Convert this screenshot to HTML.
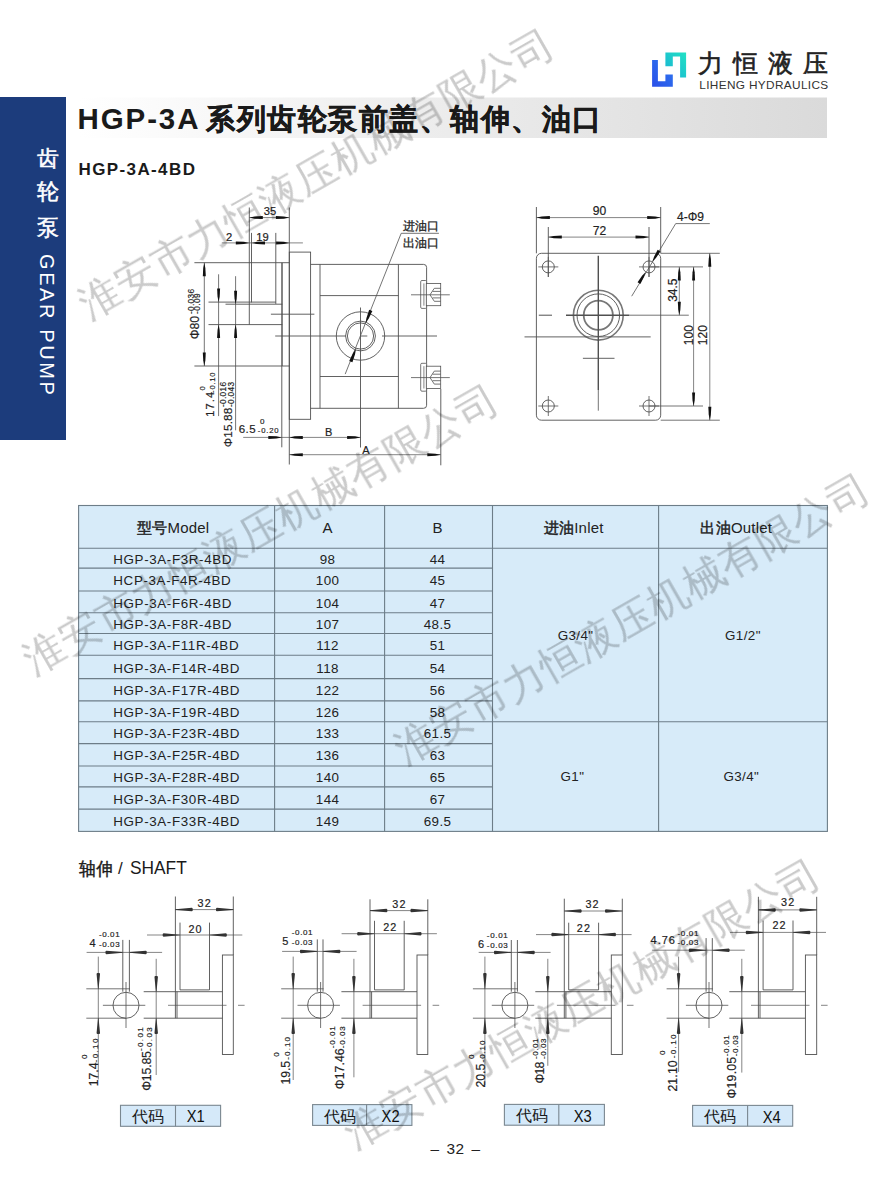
<!DOCTYPE html>
<html><head><meta charset="utf-8">
<style>
html,body{margin:0;padding:0;background:#fff;}
body{width:882px;height:1200px;overflow:hidden;position:relative;font-family:"Liberation Sans",sans-serif;}
svg{position:absolute;left:0;top:0;}
</style></head>
<body>
<svg width="882" height="1200" viewBox="0 0 882 1200" font-family="Liberation Sans, sans-serif">
<defs>
<linearGradient id="tg" x1="0" x2="1" y1="0" y2="0">
<stop offset="0" stop-color="#ffffff"/><stop offset="0.35" stop-color="#f1f1f1"/><stop offset="1" stop-color="#dadada"/>
</linearGradient>
<linearGradient id="lb" x1="0" x2="1" y1="1" y2="0">
<stop offset="0" stop-color="#2a4fe8"/><stop offset="1" stop-color="#2e7af0"/>
</linearGradient>
<linearGradient id="lt" x1="0" x2="1" y1="1" y2="0">
<stop offset="0" stop-color="#18b0d4"/><stop offset="1" stop-color="#22e2c4"/>
</linearGradient>
</defs>

<!-- sidebar -->
<rect x="0" y="97" width="66" height="343" fill="#1c3c7c"/>
<g fill="#fff" stroke="#fff" stroke-width="0.5" font-size="22" text-anchor="middle">
<text x="48.2" y="165.5">齿</text>
<text x="48.2" y="199">轮</text>
<text x="48.2" y="234.5">泵</text>
</g>
<text transform="translate(40,254) rotate(90)" fill="#fff" font-size="20" letter-spacing="2.6">GEAR PUMP</text>

<!-- title bar -->
<rect x="79" y="97.5" width="748" height="40.5" fill="url(#tg)"/>
<text x="77.5" y="129" font-size="29.5" font-weight="bold" fill="#1a1a1a" letter-spacing="1.9">HGP-3A</text>
<text x="206" y="129" font-size="29" font-weight="bold" fill="#1a1a1a" stroke="#1a1a1a" stroke-width="0.45" letter-spacing="1.5">系列齿轮泵前盖、轴伸、油口</text>

<!-- logo -->
<path d="M652.1,60 H657.9 V81.3 H665.4 V74.5 H672.8 V86.7 H652.1 Z" fill="url(#lb)"/>
<path d="M665.4,52.4 H686.1 V77.6 H680.1 V56.6 H672.8 V66.3 H665.4 Z" fill="url(#lt)"/>
<text x="697.5" y="72" font-size="25" fill="#222" stroke="#222" stroke-width="0.6" letter-spacing="10.2">力恒液压</text>
<text x="699.3" y="89.4" font-size="11.8" fill="#333" textLength="128.9" lengthAdjust="spacing">LIHENG HYDRAULICS</text>

<!-- subtitle -->
<text x="78.5" y="175.4" font-size="17" font-weight="bold" fill="#1a1a1a" letter-spacing="1.39">HGP-3A-4BD</text>

<!-- table -->
<rect x="78.6" y="505.5" width="748.8" height="325.9" fill="#d7ebf9"/>
<g stroke="#6d7d88" stroke-width="1.1" fill="none">
<rect x="78.6" y="505.5" width="748.8" height="325.9"/>
<line x1="274.6" y1="505.5" x2="274.6" y2="831.4"/>
<line x1="384.6" y1="505.5" x2="384.6" y2="831.4"/>
<line x1="492.5" y1="505.5" x2="492.5" y2="831.4"/>
<line x1="658.6" y1="505.5" x2="658.6" y2="831.4"/>
<line x1="78.6" y1="548.3" x2="827.4" y2="548.3"/>
<line x1="78.6" y1="568.1" x2="492.5" y2="568.1"/>
<line x1="78.6" y1="591.0" x2="492.5" y2="591.0"/>
<line x1="78.6" y1="612.75" x2="492.5" y2="612.75"/>
<line x1="78.6" y1="633.5" x2="492.5" y2="633.5"/>
<line x1="78.6" y1="655.25" x2="492.5" y2="655.25"/>
<line x1="78.6" y1="678.6" x2="492.5" y2="678.6"/>
<line x1="78.6" y1="700.9" x2="492.5" y2="700.9"/>
<line x1="78.6" y1="721.7" x2="827.4" y2="721.7"/>
<line x1="78.6" y1="743.65" x2="492.5" y2="743.65"/>
<line x1="78.6" y1="766.0" x2="492.5" y2="766.0"/>
<line x1="78.6" y1="786.9" x2="492.5" y2="786.9"/>
<line x1="78.6" y1="809.1" x2="492.5" y2="809.1"/>
</g>
<g fill="#222" font-size="15" text-anchor="middle" letter-spacing="0.2">
<text x="173.2" y="532.5"><tspan stroke="#222" stroke-width="0.45">型号</tspan>Model</text>
<text x="327.6" y="532.5">A</text>
<text x="437.7" y="532.5">B</text>
<text x="573.7" y="532.5"><tspan stroke="#222" stroke-width="0.45">进油</tspan>Inlet</text>
<text x="736.3" y="532.5"><tspan stroke="#222" stroke-width="0.45">出油</tspan>Outlet</text>
</g>
<g fill="#222" font-size="13.4">
<text x="113.3" y="563.8" letter-spacing="0.62">HGP-3A-F3R-4BD</text>
<text x="327.6" y="563.8" text-anchor="middle" letter-spacing="0.45">98</text>
<text x="437.6" y="563.8" text-anchor="middle" letter-spacing="0.45">44</text>
<text x="113.3" y="585.1" letter-spacing="0.62">HCP-3A-F4R-4BD</text>
<text x="327.6" y="585.1" text-anchor="middle" letter-spacing="0.45">100</text>
<text x="437.6" y="585.1" text-anchor="middle" letter-spacing="0.45">45</text>
<text x="113.3" y="607.5" letter-spacing="0.62">HGP-3A-F6R-4BD</text>
<text x="327.6" y="607.5" text-anchor="middle" letter-spacing="0.45">104</text>
<text x="437.6" y="607.5" text-anchor="middle" letter-spacing="0.45">47</text>
<text x="113.3" y="628.7" letter-spacing="0.62">HGP-3A-F8R-4BD</text>
<text x="327.6" y="628.7" text-anchor="middle" letter-spacing="0.45">107</text>
<text x="437.6" y="628.7" text-anchor="middle" letter-spacing="0.45">48.5</text>
<text x="113.3" y="650.0" letter-spacing="0.62">HGP-3A-F11R-4BD</text>
<text x="327.6" y="650.0" text-anchor="middle" letter-spacing="0.45">112</text>
<text x="437.6" y="650.0" text-anchor="middle" letter-spacing="0.45">51</text>
<text x="113.3" y="672.5" letter-spacing="0.62">HGP-3A-F14R-4BD</text>
<text x="327.6" y="672.5" text-anchor="middle" letter-spacing="0.45">118</text>
<text x="437.6" y="672.5" text-anchor="middle" letter-spacing="0.45">54</text>
<text x="113.3" y="695.4" letter-spacing="0.62">HGP-3A-F17R-4BD</text>
<text x="327.6" y="695.4" text-anchor="middle" letter-spacing="0.45">122</text>
<text x="437.6" y="695.4" text-anchor="middle" letter-spacing="0.45">56</text>
<text x="113.3" y="716.9" letter-spacing="0.62">HGP-3A-F19R-4BD</text>
<text x="327.6" y="716.9" text-anchor="middle" letter-spacing="0.45">126</text>
<text x="437.6" y="716.9" text-anchor="middle" letter-spacing="0.45">58</text>
<text x="113.3" y="738.3" letter-spacing="0.62">HGP-3A-F23R-4BD</text>
<text x="327.6" y="738.3" text-anchor="middle" letter-spacing="0.45">133</text>
<text x="437.6" y="738.3" text-anchor="middle" letter-spacing="0.45">61.5</text>
<text x="113.3" y="760.4" letter-spacing="0.62">HGP-3A-F25R-4BD</text>
<text x="327.6" y="760.4" text-anchor="middle" letter-spacing="0.45">136</text>
<text x="437.6" y="760.4" text-anchor="middle" letter-spacing="0.45">63</text>
<text x="113.3" y="782.1" letter-spacing="0.62">HGP-3A-F28R-4BD</text>
<text x="327.6" y="782.1" text-anchor="middle" letter-spacing="0.45">140</text>
<text x="437.6" y="782.1" text-anchor="middle" letter-spacing="0.45">65</text>
<text x="113.3" y="803.6" letter-spacing="0.62">HGP-3A-F30R-4BD</text>
<text x="327.6" y="803.6" text-anchor="middle" letter-spacing="0.45">144</text>
<text x="437.6" y="803.6" text-anchor="middle" letter-spacing="0.45">67</text>
<text x="113.3" y="825.9" letter-spacing="0.62">HGP-3A-F33R-4BD</text>
<text x="327.6" y="825.9" text-anchor="middle" letter-spacing="0.45">149</text>
<text x="437.6" y="825.9" text-anchor="middle" letter-spacing="0.45">69.5</text>
<text x="575.6" y="639.6" text-anchor="middle" letter-spacing="0.4">G3/4"</text>
<text x="742.9" y="639.6" text-anchor="middle" letter-spacing="0.4">G1/2"</text>
<text x="572.4" y="781.1" text-anchor="middle" letter-spacing="0.4">G1"</text>
<text x="741.3" y="781.1" text-anchor="middle" letter-spacing="0.4">G3/4"</text>
</g>
<!--DRAW-->
<line x1="249.3" y1="207.5" x2="249.3" y2="324.6" stroke="#505050" stroke-width="0.9"/>
<line x1="289.3" y1="207.5" x2="289.3" y2="464.5" stroke="#505050" stroke-width="0.9"/>
<line x1="249.3" y1="217.6" x2="289.3" y2="217.6" stroke="#505050" stroke-width="0.7"/>
<polygon points="249.3,217.6 254.7,216.55 262.8,216.1 262.8,219.1 254.7,218.65" fill="#111"/>
<polygon points="289.3,217.6 283.9,218.65 275.8,219.1 275.8,216.1 283.9,216.55" fill="#111"/>
<text x="270" y="215" font-size="11.2" text-anchor="middle" fill="#222" stroke="#222" stroke-width="0.18">35</text>
<line x1="221.8" y1="242.9" x2="302.9" y2="242.9" stroke="#505050" stroke-width="0.7"/>
<polygon points="249.3,242.9 243.9,243.95 235.8,244.4 235.8,241.4 243.9,241.85" fill="#111"/>
<polygon points="251.5,242.9 256.9,241.85 265,241.4 265,244.4 256.9,243.95" fill="#111"/>
<polygon points="289.3,242.9 283.9,243.95 275.8,244.4 275.8,241.4 283.9,241.85" fill="#111"/>
<line x1="251.5" y1="232.9" x2="251.5" y2="302.4" stroke="#505050" stroke-width="0.9"/>
<line x1="275.8" y1="232.9" x2="275.8" y2="303.9" stroke="#505050" stroke-width="0.9"/>
<text x="229.2" y="240.6" font-size="11.2" text-anchor="middle" fill="#222" stroke="#222" stroke-width="0.18">2</text>
<text x="262.6" y="240.6" font-size="11.2" text-anchor="middle" fill="#222" stroke="#222" stroke-width="0.18">19</text>
<line x1="194.4" y1="262.7" x2="289.3" y2="262.7" stroke="#505050" stroke-width="0.9"/>
<line x1="194.4" y1="366" x2="289.3" y2="366" stroke="#505050" stroke-width="0.9"/>
<line x1="204.3" y1="262.7" x2="204.3" y2="366" stroke="#505050" stroke-width="0.8"/>
<polygon points="204.3,262.7 205.35,268.1 205.8,276.2 202.8,276.2 203.25,268.1" fill="#111"/>
<polygon points="204.3,366 203.25,360.6 202.8,352.5 205.8,352.5 205.35,360.6" fill="#111"/>
<line x1="208.5" y1="302.1" x2="275.8" y2="302.1" stroke="#505050" stroke-width="0.9"/>
<line x1="225.5" y1="304.2" x2="282.3" y2="304.2" stroke="#505050" stroke-width="0.9"/>
<line x1="208.5" y1="324.6" x2="282.3" y2="324.6" stroke="#505050" stroke-width="0.9"/>
<line x1="218.6" y1="274.3" x2="218.6" y2="416.1" stroke="#505050" stroke-width="0.8"/>
<polygon points="218.6,302.1 217.55,296.7 217.1,288.6 220.1,288.6 219.65,296.7" fill="#111"/>
<polygon points="218.6,324.6 219.65,330 220.1,338.1 217.1,338.1 217.55,330" fill="#111"/>
<line x1="235.6" y1="276.2" x2="235.6" y2="430.3" stroke="#505050" stroke-width="0.8"/>
<polygon points="235.6,304.2 234.55,298.8 234.1,290.7 237.1,290.7 236.65,298.8" fill="#111"/>
<polygon points="235.6,324.6 236.65,330 237.1,338.1 234.1,338.1 234.55,330" fill="#111"/>
<line x1="282" y1="262.7" x2="282" y2="366" stroke="#505050" stroke-width="1.4"/>
<line x1="281.8" y1="366" x2="281.8" y2="447.3" stroke="#505050" stroke-width="0.9"/>
<line x1="270.9" y1="314.2" x2="314.4" y2="314.2" stroke="#505050" stroke-width="0.9"/>
<line x1="275.2" y1="336" x2="345.9" y2="336" stroke="#505050" stroke-width="0.9"/>
<line x1="361" y1="336" x2="367.3" y2="336" stroke="#505050" stroke-width="0.9"/>
<line x1="382" y1="336" x2="437" y2="336" stroke="#505050" stroke-width="0.9"/>
<rect x="289.3" y="252.1" width="21.3" height="167.2" fill="none" stroke="#505050" stroke-width="0.9"/>
<path d="M310.6,264.4 H423.6 Q426.6,264.4 426.6,267.4 V405.3 Q426.6,408.3 423.6,408.3 H310.6" fill="none" stroke="#505050" stroke-width="0.9"/>
<line x1="320" y1="264.4" x2="320" y2="408.3" stroke="#505050" stroke-width="0.9"/>
<line x1="398.4" y1="264.4" x2="398.4" y2="408.3" stroke="#505050" stroke-width="0.9"/>
<line x1="320" y1="295.6" x2="398.4" y2="295.6" stroke="#505050" stroke-width="0.9"/>
<line x1="320" y1="376.5" x2="398.4" y2="376.5" stroke="#505050" stroke-width="0.9"/>
<circle cx="360.5" cy="336" r="24.2" fill="none" stroke="#505050" stroke-width="0.9"/>
<circle cx="360.5" cy="336" r="14.9" fill="none" stroke="#505050" stroke-width="0.9"/>
<circle cx="360.5" cy="336" r="13.1" fill="none" stroke="#505050" stroke-width="0.9"/>
<line x1="360.5" y1="307.5" x2="360.5" y2="447.5" stroke="#505050" stroke-width="0.9"/>
<line x1="438.9" y1="233.3" x2="401.2" y2="233.3" stroke="#505050" stroke-width="0.8"/>
<line x1="401.2" y1="233.3" x2="345.2" y2="374.1" stroke="#505050" stroke-width="0.8"/>
<polygon points="365.6,323.3 366.56,317.66 369.19,309.66 372.35,310.92 368.78,318.54" fill="#111"/>
<polygon points="356,348.7 355.04,354.34 352.41,362.34 349.25,361.08 352.82,353.46" fill="#111"/>
<text x="421" y="229.6" font-size="12.2" text-anchor="middle" fill="#222" stroke="#222" stroke-width="0.3">进油口</text>
<text x="421" y="247.3" font-size="12.2" text-anchor="middle" fill="#222" stroke="#222" stroke-width="0.3">出油口</text>
<rect x="420.7" y="280.5" width="5.9" height="27.9" rx="1.2" fill="#fff" stroke="#505050" stroke-width="0.8"/>
<line x1="423.9" y1="283.4" x2="423.9" y2="305.7" stroke="#505050" stroke-width="0.7"/>
<rect x="426.3" y="283.4" width="14.4" height="22.3" fill="#fff" stroke="#505050" stroke-width="0.8"/>
<path d="M430,294.8 L434.3,288.3 H440.7 M430,294.8 L434.3,301.3 H440.7 M432.6,291.4 H440.7 M432.6,297.9 H440.7" fill="none" stroke="#505050" stroke-width="0.8"/>
<line x1="411" y1="294.8" x2="449.8" y2="294.8" stroke="#505050" stroke-width="0.8"/>
<rect x="420.7" y="363.3" width="5.9" height="27.9" rx="1.2" fill="#fff" stroke="#505050" stroke-width="0.8"/>
<line x1="423.9" y1="366.2" x2="423.9" y2="388.5" stroke="#505050" stroke-width="0.7"/>
<rect x="426.3" y="366.2" width="14.4" height="22.3" fill="#fff" stroke="#505050" stroke-width="0.8"/>
<path d="M430,377.6 L434.3,371.1 H440.7 M430,377.6 L434.3,384.1 H440.7 M432.6,374.2 H440.7 M432.6,380.7 H440.7" fill="none" stroke="#505050" stroke-width="0.8"/>
<line x1="411" y1="377.6" x2="449.8" y2="377.6" stroke="#505050" stroke-width="0.8"/>
<line x1="243.2" y1="437.4" x2="360.6" y2="437.4" stroke="#505050" stroke-width="0.7"/>
<polygon points="281.8,437.4 276.4,438.45 268.3,438.9 268.3,435.9 276.4,436.35" fill="#111"/>
<polygon points="289.3,437.4 294.7,436.35 302.8,435.9 302.8,438.9 294.7,438.45" fill="#111"/>
<polygon points="360.6,437.4 355.2,438.45 347.1,438.9 347.1,435.9 355.2,436.35" fill="#111"/>
<line x1="289.3" y1="454.7" x2="440.8" y2="454.7" stroke="#505050" stroke-width="0.7"/>
<polygon points="289.3,454.7 294.7,453.65 302.8,453.2 302.8,456.2 294.7,455.75" fill="#111"/>
<polygon points="440.8,454.7 435.4,455.75 427.3,456.2 427.3,453.2 435.4,453.65" fill="#111"/>
<line x1="440.8" y1="389" x2="440.8" y2="465.3" stroke="#505050" stroke-width="0.9"/>
<text x="328.6" y="435.5" font-size="11" text-anchor="middle" fill="#222" stroke="#222" stroke-width="0.18">B</text>
<text x="366" y="454" font-size="11" text-anchor="middle" fill="#222" stroke="#222" stroke-width="0.18">A</text>
<text transform="translate(198.7,339.3) rotate(-90)" font-size="12" text-anchor="start" fill="#222" stroke="#222" stroke-width="0.18" textLength="23.3" lengthAdjust="spacingAndGlyphs">Φ80</text>
<text transform="translate(193.5,314) rotate(-90)" font-size="8.3" text-anchor="start" letter-spacing="0.3" fill="#222" stroke="#222" stroke-width="0.18">-0.036</text>
<text transform="translate(199.9,314) rotate(-90)" font-size="8.3" text-anchor="start" letter-spacing="0.4" fill="#222" stroke="#222" stroke-width="0.18">-0.09</text>
<text transform="translate(214.3,416.7) rotate(-90)" font-size="11" text-anchor="start" letter-spacing="1.1" fill="#222" stroke="#222" stroke-width="0.18">17.4</text>
<text transform="translate(204.6,390.6) rotate(-90)" font-size="7.8" text-anchor="start" fill="#222" stroke="#222" stroke-width="0.18">0</text>
<text transform="translate(214.8,392.9) rotate(-90)" font-size="7.8" text-anchor="start" letter-spacing="0.7" fill="#222" stroke="#222" stroke-width="0.18">-0.10</text>
<text transform="translate(232.4,447.3) rotate(-90)" font-size="11.8" text-anchor="start" fill="#222" stroke="#222" stroke-width="0.18" textLength="39.7" lengthAdjust="spacing">Φ15.88</text>
<text transform="translate(226.4,407) rotate(-90)" font-size="8.3" text-anchor="start" letter-spacing="0.3" fill="#222" stroke="#222" stroke-width="0.18">-0.016</text>
<text transform="translate(234.3,407) rotate(-90)" font-size="8.3" text-anchor="start" letter-spacing="0.3" fill="#222" stroke="#222" stroke-width="0.18">-0.043</text>
<text x="238.7" y="433" font-size="11.5" text-anchor="start" letter-spacing="0.5" fill="#222" stroke="#222" stroke-width="0.18">6.5</text>
<text x="257.8" y="433" font-size="7.7" text-anchor="start" letter-spacing="0.8" fill="#222" stroke="#222" stroke-width="0.18">-0.20</text>
<text x="262.2" y="423.5" font-size="8" text-anchor="middle" fill="#222" stroke="#222" stroke-width="0.18">0</text>
<rect x="536.4" y="253.3" width="124.3" height="166.9" rx="5" fill="none" stroke="#505050" stroke-width="0.9"/>
<line x1="536.4" y1="207" x2="536.4" y2="253.3" stroke="#505050" stroke-width="0.9"/>
<line x1="660.7" y1="207" x2="660.7" y2="253.3" stroke="#505050" stroke-width="0.9"/>
<line x1="536.4" y1="217.6" x2="660.7" y2="217.6" stroke="#505050" stroke-width="0.7"/>
<polygon points="536.4,217.6 541.8,216.55 549.9,216.1 549.9,219.1 541.8,218.65" fill="#111"/>
<polygon points="660.7,217.6 655.3,218.65 647.2,219.1 647.2,216.1 655.3,216.55" fill="#111"/>
<text x="599.6" y="214.9" font-size="12.1" text-anchor="middle" fill="#222" stroke="#222" stroke-width="0.18">90</text>
<line x1="548.3" y1="227" x2="548.3" y2="277" stroke="#505050" stroke-width="0.9"/>
<line x1="649" y1="227" x2="649" y2="277" stroke="#505050" stroke-width="0.9"/>
<line x1="548.3" y1="237.1" x2="649" y2="237.1" stroke="#505050" stroke-width="0.7"/>
<polygon points="548.3,237.1 553.7,236.05 561.8,235.6 561.8,238.6 553.7,238.15" fill="#111"/>
<polygon points="649,237.1 643.6,238.15 635.5,238.6 635.5,235.6 643.6,236.05" fill="#111"/>
<text x="599.6" y="234.8" font-size="12.1" text-anchor="middle" fill="#222" stroke="#222" stroke-width="0.18">72</text>
<circle cx="548.3" cy="266.9" r="6" fill="none" stroke="#505050" stroke-width="0.9"/>
<line x1="538.3" y1="266.9" x2="558.3" y2="266.9" stroke="#505050" stroke-width="0.8"/>
<line x1="548.3" y1="256.9" x2="548.3" y2="276.9" stroke="#505050" stroke-width="0.8"/>
<circle cx="548.3" cy="406" r="6" fill="none" stroke="#505050" stroke-width="0.9"/>
<line x1="538.3" y1="406" x2="558.3" y2="406" stroke="#505050" stroke-width="0.8"/>
<line x1="548.3" y1="396" x2="548.3" y2="416" stroke="#505050" stroke-width="0.8"/>
<circle cx="649" cy="266.9" r="6" fill="none" stroke="#505050" stroke-width="0.9"/>
<line x1="639" y1="266.9" x2="659" y2="266.9" stroke="#505050" stroke-width="0.8"/>
<line x1="649" y1="256.9" x2="649" y2="276.9" stroke="#505050" stroke-width="0.8"/>
<circle cx="649" cy="406" r="6" fill="none" stroke="#505050" stroke-width="0.9"/>
<line x1="639" y1="406" x2="659" y2="406" stroke="#505050" stroke-width="0.8"/>
<line x1="649" y1="396" x2="649" y2="416" stroke="#505050" stroke-width="0.8"/>
<line x1="649" y1="266.9" x2="703" y2="266.9" stroke="#505050" stroke-width="0.8"/>
<line x1="649" y1="406" x2="703" y2="406" stroke="#505050" stroke-width="0.8"/>
<line x1="660.7" y1="253.3" x2="719.8" y2="253.3" stroke="#505050" stroke-width="0.8"/>
<line x1="660.7" y1="420.2" x2="719.8" y2="420.2" stroke="#505050" stroke-width="0.8"/>
<circle cx="598.3" cy="315.2" r="24.9" fill="none" stroke="#777" stroke-width="1.6"/>
<circle cx="598.3" cy="315.2" r="21.3" fill="none" stroke="#505050" stroke-width="0.9"/>
<circle cx="598.3" cy="315.2" r="14.6" fill="none" stroke="#777" stroke-width="1.8"/>
<line x1="538.8" y1="315.2" x2="552" y2="315.2" stroke="#505050" stroke-width="1.0"/>
<line x1="566" y1="315.2" x2="629.3" y2="315.2" stroke="#505050" stroke-width="1.4"/>
<line x1="629.3" y1="315.2" x2="688.8" y2="315.2" stroke="#505050" stroke-width="0.8"/>
<line x1="598.3" y1="255.7" x2="598.3" y2="390" stroke="#505050" stroke-width="1.4"/>
<line x1="598.3" y1="390" x2="598.3" y2="410.7" stroke="#505050" stroke-width="0.8"/>
<line x1="524.5" y1="336.9" x2="650.7" y2="336.9" stroke="#505050" stroke-width="0.9"/>
<line x1="582.9" y1="358.3" x2="614.5" y2="358.3" stroke="#505050" stroke-width="0.9"/>
<line x1="679.3" y1="266.9" x2="679.3" y2="315.2" stroke="#505050" stroke-width="0.7"/>
<polygon points="679.3,266.9 680.35,272.3 680.8,280.4 677.8,280.4 678.25,272.3" fill="#111"/>
<polygon points="679.3,315.2 678.25,309.8 677.8,301.7 680.8,301.7 680.35,309.8" fill="#111"/>
<line x1="693.6" y1="266.9" x2="693.6" y2="406" stroke="#505050" stroke-width="0.7"/>
<polygon points="693.6,266.9 694.65,272.3 695.1,280.4 692.1,280.4 692.55,272.3" fill="#111"/>
<polygon points="693.6,406 692.55,400.6 692.1,392.5 695.1,392.5 694.65,400.6" fill="#111"/>
<line x1="709.8" y1="253.3" x2="709.8" y2="420.2" stroke="#505050" stroke-width="0.7"/>
<polygon points="709.8,253.3 710.85,258.7 711.3,266.8 708.3,266.8 708.75,258.7" fill="#111"/>
<polygon points="709.8,420.2 708.75,414.8 708.3,406.7 711.3,406.7 710.85,414.8" fill="#111"/>
<text transform="translate(676.5,290.2) rotate(-90)" font-size="12" text-anchor="middle" fill="#222" stroke="#222" stroke-width="0.18">34.5</text>
<text transform="translate(692.5,335.2) rotate(-90)" font-size="12" text-anchor="middle" fill="#222" stroke="#222" stroke-width="0.18">100</text>
<text transform="translate(707.3,335.2) rotate(-90)" font-size="12" text-anchor="middle" fill="#222" stroke="#222" stroke-width="0.18">120</text>
<line x1="709.8" y1="223.6" x2="675.7" y2="223.6" stroke="#505050" stroke-width="0.8"/>
<line x1="675.7" y1="223.6" x2="631.7" y2="296.2" stroke="#505050" stroke-width="0.8"/>
<polygon points="652.3,261.8 654.04,256.77 657.67,249.85 660.41,251.51 655.95,257.93" fill="#111"/>
<polygon points="645.7,272 643.96,277.03 640.33,283.95 637.59,282.29 642.05,275.87" fill="#111"/>
<text x="677" y="220.6" font-size="12" text-anchor="start" fill="#222" stroke="#222" stroke-width="0.18" textLength="27" lengthAdjust="spacingAndGlyphs">4-Φ9</text>
<line x1="175.4" y1="896.5" x2="175.4" y2="1018.2" stroke="#505050" stroke-width="0.9"/>
<line x1="233.3" y1="896.5" x2="233.3" y2="955" stroke="#505050" stroke-width="0.9"/>
<line x1="175.4" y1="909.6" x2="233.3" y2="909.6" stroke="#505050" stroke-width="0.7"/>
<polygon points="175.4,909.3 191.9,907.85 192.7,908.55 192.7,910.65 191.9,911.35 175.4,909.9" fill="#333"/>
<polygon points="233.3,909.9 216.8,911.35 216,910.65 216,908.55 216.8,907.85 233.3,909.3" fill="#333"/>
<text x="197.6" y="907" font-size="10.8" text-anchor="start" textLength="13.1" lengthAdjust="spacing" fill="#222" stroke="#222" stroke-width="0.18">32</text>
<line x1="147" y1="935" x2="242.3" y2="935" stroke="#505050" stroke-width="0.7"/>
<polygon points="180,935.3 163.5,936.75 162.7,936.05 162.7,933.95 163.5,933.25 180,934.7" fill="#333"/>
<polygon points="209.5,934.7 226,933.25 226.8,933.95 226.8,936.05 226,936.75 209.5,935.3" fill="#333"/>
<line x1="180" y1="922.6" x2="180" y2="989.9" stroke="#505050" stroke-width="0.9"/>
<line x1="209.5" y1="922.6" x2="209.5" y2="989.9" stroke="#505050" stroke-width="0.9"/>
<line x1="180" y1="989.9" x2="209.5" y2="989.9" stroke="#505050" stroke-width="0.9"/>
<text x="188.4" y="932.6" font-size="10.8" text-anchor="start" textLength="13.1" lengthAdjust="spacing" fill="#222" stroke="#222" stroke-width="0.18">20</text>
<line x1="177" y1="991.7" x2="177" y2="1018.2" stroke="#505050" stroke-width="0.9"/>
<line x1="86.6" y1="952.4" x2="162.1" y2="952.4" stroke="#505050" stroke-width="0.7"/>
<polygon points="122.8,952.7 106.3,954.15 105.5,953.45 105.5,951.35 106.3,950.65 122.8,952.1" fill="#333"/>
<polygon points="129.4,952.1 145.9,950.65 146.7,951.35 146.7,953.45 145.9,954.15 129.4,952.7" fill="#333"/>
<line x1="122.8" y1="939.9" x2="122.8" y2="991.7" stroke="#505050" stroke-width="0.9"/>
<line x1="129.4" y1="939.9" x2="129.4" y2="991.7" stroke="#505050" stroke-width="0.9"/>
<text x="89.4" y="946.7" font-size="11" text-anchor="start" textLength="6.1" lengthAdjust="spacing" fill="#222" stroke="#222" stroke-width="0.18">4</text>
<text x="98.9" y="936.8" font-size="8" text-anchor="start" textLength="20.7" lengthAdjust="spacing" fill="#222" stroke="#222" stroke-width="0.18">-0.01</text>
<text x="98.9" y="946.7" font-size="8" text-anchor="start" textLength="20.7" lengthAdjust="spacing" fill="#222" stroke="#222" stroke-width="0.18">-0.03</text>
<circle cx="126" cy="1005.3" r="13" fill="none" stroke="#505050" stroke-width="0.9"/>
<line x1="126" y1="982" x2="126" y2="1028" stroke="#505050" stroke-width="0.8"/>
<line x1="102.9" y1="1005.3" x2="145.3" y2="1005.3" stroke="#505050" stroke-width="0.8"/>
<line x1="86.3" y1="988.8" x2="130" y2="988.8" stroke="#505050" stroke-width="0.8"/>
<line x1="86.3" y1="1018.2" x2="126" y2="1018.2" stroke="#505050" stroke-width="0.8"/>
<line x1="98.3" y1="956.6" x2="98.3" y2="1079.5" stroke="#505050" stroke-width="0.7"/>
<polygon points="98,988.8 96.55,973.8 97.25,973 99.35,973 100.05,973.8 98.6,988.8" fill="#333"/>
<polygon points="98.6,1018.2 100.05,1033.2 99.35,1034 97.25,1034 96.55,1033.2 98,1018.2" fill="#333"/>
<line x1="156.2" y1="958.8" x2="156.2" y2="1075" stroke="#505050" stroke-width="0.7"/>
<polygon points="155.9,991.7 154.45,976.7 155.15,975.9 157.25,975.9 157.95,976.7 156.5,991.7" fill="#333"/>
<polygon points="156.5,1018.2 157.95,1033.2 157.25,1034 155.15,1034 154.45,1033.2 155.9,1018.2" fill="#333"/>
<line x1="143.7" y1="991.7" x2="222.4" y2="991.7" stroke="#505050" stroke-width="0.9"/>
<line x1="143.7" y1="1018.2" x2="222.4" y2="1018.2" stroke="#505050" stroke-width="0.9"/>
<rect x="222.4" y="955" width="10.9" height="99.5" fill="none" stroke="#505050" stroke-width="0.9"/>
<line x1="168" y1="1005.3" x2="226.5" y2="1005.3" stroke="#505050" stroke-width="0.7"/>
<line x1="238" y1="1005.3" x2="244.6" y2="1005.3" stroke="#505050" stroke-width="0.7"/>
<text transform="translate(98.3,1086.3) rotate(-90)" font-size="12.3" text-anchor="start" textLength="23.9" lengthAdjust="spacing" fill="#222" stroke="#222" stroke-width="0.18">17.4</text>
<text transform="translate(87,1059) rotate(-90)" font-size="8" text-anchor="start" textLength="4.6" lengthAdjust="spacing" fill="#222" stroke="#222" stroke-width="0.18">0</text>
<text transform="translate(98.3,1062.4) rotate(-90)" font-size="8" text-anchor="start" textLength="23.8" lengthAdjust="spacing" fill="#222" stroke="#222" stroke-width="0.18">-0.10</text>
<text transform="translate(150.5,1090.8) rotate(-90)" font-size="12.3" text-anchor="start" textLength="39.7" lengthAdjust="spacing" fill="#222" stroke="#222" stroke-width="0.18">Φ15.85</text>
<text transform="translate(143,1051) rotate(-90)" font-size="8" text-anchor="start" textLength="23.7" lengthAdjust="spacing" fill="#222" stroke="#222" stroke-width="0.18">-0.01</text>
<text transform="translate(151.6,1051) rotate(-90)" font-size="8" text-anchor="start" textLength="23.7" lengthAdjust="spacing" fill="#222" stroke="#222" stroke-width="0.18">-0.03</text>
<line x1="370" y1="899.3" x2="370" y2="1018.2" stroke="#505050" stroke-width="0.9"/>
<line x1="427.8" y1="899.3" x2="427.8" y2="955" stroke="#505050" stroke-width="0.9"/>
<line x1="370" y1="910.6" x2="427.8" y2="910.6" stroke="#505050" stroke-width="0.7"/>
<polygon points="370,910.3 386.5,908.85 387.3,909.55 387.3,911.65 386.5,912.35 370,910.9" fill="#333"/>
<polygon points="427.8,910.9 411.3,912.35 410.5,911.65 410.5,909.55 411.3,908.85 427.8,910.3" fill="#333"/>
<text x="392.3" y="908" font-size="10.8" text-anchor="start" textLength="13.1" lengthAdjust="spacing" fill="#222" stroke="#222" stroke-width="0.18">32</text>
<line x1="341.6" y1="933.7" x2="436.9" y2="933.7" stroke="#505050" stroke-width="0.7"/>
<polygon points="374.5,934 358,935.45 357.2,934.75 357.2,932.65 358,931.95 374.5,933.4" fill="#333"/>
<polygon points="404.2,933.4 420.7,931.95 421.5,932.65 421.5,934.75 420.7,935.45 404.2,934" fill="#333"/>
<line x1="374.5" y1="920.8" x2="374.5" y2="989.9" stroke="#505050" stroke-width="0.9"/>
<line x1="404.2" y1="920.8" x2="404.2" y2="989.9" stroke="#505050" stroke-width="0.9"/>
<line x1="374.5" y1="989.9" x2="404.2" y2="989.9" stroke="#505050" stroke-width="0.9"/>
<text x="383.2" y="931.3" font-size="10.8" text-anchor="start" textLength="13.1" lengthAdjust="spacing" fill="#222" stroke="#222" stroke-width="0.18">22</text>
<line x1="371.6" y1="991.7" x2="371.6" y2="1018.2" stroke="#505050" stroke-width="0.9"/>
<line x1="282.1" y1="951.4" x2="356.6" y2="951.4" stroke="#505050" stroke-width="0.7"/>
<polygon points="317.3,951.7 300.8,953.15 300,952.45 300,950.35 300.8,949.65 317.3,951.1" fill="#333"/>
<polygon points="323,951.1 339.5,949.65 340.3,950.35 340.3,952.45 339.5,953.15 323,951.7" fill="#333"/>
<line x1="317.3" y1="939.4" x2="317.3" y2="991.7" stroke="#505050" stroke-width="0.9"/>
<line x1="323" y1="939.4" x2="323" y2="991.7" stroke="#505050" stroke-width="0.9"/>
<text x="282.3" y="944.5" font-size="11" text-anchor="start" textLength="5.8" lengthAdjust="spacing" fill="#222" stroke="#222" stroke-width="0.18">5</text>
<text x="291.8" y="934.8" font-size="8" text-anchor="start" textLength="20.7" lengthAdjust="spacing" fill="#222" stroke="#222" stroke-width="0.18">-0.01</text>
<text x="291.8" y="944.5" font-size="8" text-anchor="start" textLength="20.7" lengthAdjust="spacing" fill="#222" stroke="#222" stroke-width="0.18">-0.03</text>
<circle cx="320.6" cy="1005.3" r="13" fill="none" stroke="#505050" stroke-width="0.9"/>
<line x1="320.6" y1="982" x2="320.6" y2="1028" stroke="#505050" stroke-width="0.8"/>
<line x1="297.5" y1="1005.3" x2="339.9" y2="1005.3" stroke="#505050" stroke-width="0.8"/>
<line x1="281.2" y1="988.8" x2="323.6" y2="988.8" stroke="#505050" stroke-width="0.8"/>
<line x1="281.2" y1="1018.2" x2="320.6" y2="1018.2" stroke="#505050" stroke-width="0.8"/>
<line x1="293.2" y1="956.6" x2="293.2" y2="1080" stroke="#505050" stroke-width="0.7"/>
<polygon points="292.9,988.8 291.45,973.8 292.15,973 294.25,973 294.95,973.8 293.5,988.8" fill="#333"/>
<polygon points="293.5,1018.2 294.95,1033.2 294.25,1034 292.15,1034 291.45,1033.2 292.9,1018.2" fill="#333"/>
<line x1="353.9" y1="958.8" x2="353.9" y2="1077.3" stroke="#505050" stroke-width="0.7"/>
<polygon points="353.6,991.7 352.15,976.7 352.85,975.9 354.95,975.9 355.65,976.7 354.2,991.7" fill="#333"/>
<polygon points="354.2,1018.2 355.65,1033.2 354.95,1034 352.85,1034 352.15,1033.2 353.6,1018.2" fill="#333"/>
<line x1="341.4" y1="991.7" x2="417" y2="991.7" stroke="#505050" stroke-width="0.9"/>
<line x1="341.4" y1="1018.2" x2="417" y2="1018.2" stroke="#505050" stroke-width="0.9"/>
<rect x="417" y="955" width="10.8" height="99.5" fill="none" stroke="#505050" stroke-width="0.9"/>
<line x1="362.6" y1="1005.3" x2="421.1" y2="1005.3" stroke="#505050" stroke-width="0.7"/>
<line x1="432.6" y1="1005.3" x2="439.2" y2="1005.3" stroke="#505050" stroke-width="0.7"/>
<text transform="translate(290.4,1084.6) rotate(-90)" font-size="12.3" text-anchor="start" textLength="23.8" lengthAdjust="spacing" fill="#222" stroke="#222" stroke-width="0.18">19.5</text>
<text transform="translate(279,1056.8) rotate(-90)" font-size="8" text-anchor="start" textLength="4.6" lengthAdjust="spacing" fill="#222" stroke="#222" stroke-width="0.18">0</text>
<text transform="translate(290.4,1059.7) rotate(-90)" font-size="8" text-anchor="start" textLength="22.7" lengthAdjust="spacing" fill="#222" stroke="#222" stroke-width="0.18">-0.10</text>
<text transform="translate(343.7,1089.2) rotate(-90)" font-size="12.3" text-anchor="start" textLength="40.9" lengthAdjust="spacing" fill="#222" stroke="#222" stroke-width="0.18">Φ17.46</text>
<text transform="translate(335.2,1048.3) rotate(-90)" font-size="8" text-anchor="start" textLength="22.1" lengthAdjust="spacing" fill="#222" stroke="#222" stroke-width="0.18">-0.01</text>
<text transform="translate(344.8,1048.3) rotate(-90)" font-size="8" text-anchor="start" textLength="22.1" lengthAdjust="spacing" fill="#222" stroke="#222" stroke-width="0.18">-0.03</text>
<line x1="564.3" y1="898.7" x2="564.3" y2="1018.2" stroke="#505050" stroke-width="0.9"/>
<line x1="622.3" y1="898.7" x2="622.3" y2="955" stroke="#505050" stroke-width="0.9"/>
<line x1="564.3" y1="911" x2="622.3" y2="911" stroke="#505050" stroke-width="0.7"/>
<polygon points="564.3,910.7 580.8,909.25 581.6,909.95 581.6,912.05 580.8,912.75 564.3,911.3" fill="#333"/>
<polygon points="622.3,911.3 605.8,912.75 605,912.05 605,909.95 605.8,909.25 622.3,910.7" fill="#333"/>
<text x="585.5" y="908.1" font-size="10.8" text-anchor="start" textLength="13.1" lengthAdjust="spacing" fill="#222" stroke="#222" stroke-width="0.18">32</text>
<line x1="536" y1="934.6" x2="631.6" y2="934.6" stroke="#505050" stroke-width="0.7"/>
<polygon points="568.7,934.9 552.2,936.35 551.4,935.65 551.4,933.55 552.2,932.85 568.7,934.3" fill="#333"/>
<polygon points="598.6,934.3 615.1,932.85 615.9,933.55 615.9,935.65 615.1,936.35 598.6,934.9" fill="#333"/>
<line x1="568.7" y1="922.7" x2="568.7" y2="989.9" stroke="#505050" stroke-width="0.9"/>
<line x1="598.6" y1="922.7" x2="598.6" y2="989.9" stroke="#505050" stroke-width="0.9"/>
<line x1="568.7" y1="989.9" x2="598.6" y2="989.9" stroke="#505050" stroke-width="0.9"/>
<text x="576.8" y="932.4" font-size="10.8" text-anchor="start" textLength="13.1" lengthAdjust="spacing" fill="#222" stroke="#222" stroke-width="0.18">22</text>
<line x1="565.9" y1="991.7" x2="565.9" y2="1018.2" stroke="#505050" stroke-width="0.9"/>
<line x1="478.7" y1="952.4" x2="550.6" y2="952.4" stroke="#505050" stroke-width="0.7"/>
<polygon points="511.3,952.7 494.8,954.15 494,953.45 494,951.35 494.8,950.65 511.3,952.1" fill="#333"/>
<polygon points="517.4,952.1 533.9,950.65 534.7,951.35 534.7,953.45 533.9,954.15 517.4,952.7" fill="#333"/>
<line x1="511.3" y1="940" x2="511.3" y2="991.7" stroke="#505050" stroke-width="0.9"/>
<line x1="517.4" y1="940" x2="517.4" y2="991.7" stroke="#505050" stroke-width="0.9"/>
<text x="478" y="947.6" font-size="11" text-anchor="start" textLength="5.3" lengthAdjust="spacing" fill="#222" stroke="#222" stroke-width="0.18">6</text>
<text x="486.8" y="937.6" font-size="8" text-anchor="start" textLength="20.9" lengthAdjust="spacing" fill="#222" stroke="#222" stroke-width="0.18">-0.01</text>
<text x="486.8" y="947.6" font-size="8" text-anchor="start" textLength="20.9" lengthAdjust="spacing" fill="#222" stroke="#222" stroke-width="0.18">-0.03</text>
<circle cx="514.9" cy="1005.3" r="13" fill="none" stroke="#505050" stroke-width="0.9"/>
<line x1="514.9" y1="982" x2="514.9" y2="1028" stroke="#505050" stroke-width="0.8"/>
<line x1="491.8" y1="1005.3" x2="534.2" y2="1005.3" stroke="#505050" stroke-width="0.8"/>
<line x1="472.9" y1="988.8" x2="518" y2="988.8" stroke="#505050" stroke-width="0.8"/>
<line x1="472.9" y1="1018.2" x2="514.9" y2="1018.2" stroke="#505050" stroke-width="0.8"/>
<line x1="484.9" y1="956.6" x2="484.9" y2="1085" stroke="#505050" stroke-width="0.7"/>
<polygon points="484.6,988.8 483.15,973.8 483.85,973 485.95,973 486.65,973.8 485.2,988.8" fill="#333"/>
<polygon points="485.2,1018.2 486.65,1033.2 485.95,1034 483.85,1034 483.15,1033.2 484.6,1018.2" fill="#333"/>
<line x1="547.8" y1="958.8" x2="547.8" y2="1065.8" stroke="#505050" stroke-width="0.7"/>
<polygon points="547.5,991.7 546.05,976.7 546.75,975.9 548.85,975.9 549.55,976.7 548.1,991.7" fill="#333"/>
<polygon points="548.1,1018.2 549.55,1033.2 548.85,1034 546.75,1034 546.05,1033.2 547.5,1018.2" fill="#333"/>
<line x1="535.3" y1="991.7" x2="611.3" y2="991.7" stroke="#505050" stroke-width="0.9"/>
<line x1="535.3" y1="1018.2" x2="611.3" y2="1018.2" stroke="#505050" stroke-width="0.9"/>
<rect x="611.3" y="955" width="11" height="99.5" fill="none" stroke="#505050" stroke-width="0.9"/>
<line x1="556.9" y1="1005.3" x2="615.4" y2="1005.3" stroke="#505050" stroke-width="0.7"/>
<line x1="626.9" y1="1005.3" x2="633.5" y2="1005.3" stroke="#505050" stroke-width="0.7"/>
<text transform="translate(484.9,1087.6) rotate(-90)" font-size="12.3" text-anchor="start" textLength="23.9" lengthAdjust="spacing" fill="#222" stroke="#222" stroke-width="0.18">20.5</text>
<text transform="translate(474.3,1059) rotate(-90)" font-size="8" text-anchor="start" textLength="4.6" lengthAdjust="spacing" fill="#222" stroke="#222" stroke-width="0.18">0</text>
<text transform="translate(484.9,1062.4) rotate(-90)" font-size="8" text-anchor="start" textLength="21.8" lengthAdjust="spacing" fill="#222" stroke="#222" stroke-width="0.18">-0.10</text>
<text transform="translate(544.4,1083.5) rotate(-90)" font-size="12.3" text-anchor="start" textLength="21.8" lengthAdjust="spacing" fill="#222" stroke="#222" stroke-width="0.18">Φ18</text>
<text transform="translate(538.2,1059) rotate(-90)" font-size="8" text-anchor="start" textLength="20.4" lengthAdjust="spacing" fill="#222" stroke="#222" stroke-width="0.18">-0.01</text>
<text transform="translate(546.4,1059) rotate(-90)" font-size="8" text-anchor="start" textLength="20.4" lengthAdjust="spacing" fill="#222" stroke="#222" stroke-width="0.18">-0.03</text>
<line x1="758.4" y1="896.8" x2="758.4" y2="1018.2" stroke="#505050" stroke-width="0.9"/>
<line x1="816.7" y1="896.8" x2="816.7" y2="955" stroke="#505050" stroke-width="0.9"/>
<line x1="758.4" y1="909.9" x2="816.7" y2="909.9" stroke="#505050" stroke-width="0.7"/>
<polygon points="758.4,909.6 774.9,908.15 775.7,908.85 775.7,910.95 774.9,911.65 758.4,910.2" fill="#333"/>
<polygon points="816.7,910.2 800.2,911.65 799.4,910.95 799.4,908.85 800.2,908.15 816.7,909.6" fill="#333"/>
<text x="781.1" y="905.6" font-size="10.8" text-anchor="start" textLength="13.1" lengthAdjust="spacing" fill="#222" stroke="#222" stroke-width="0.18">32</text>
<line x1="730" y1="932.4" x2="826" y2="932.4" stroke="#505050" stroke-width="0.7"/>
<polygon points="763.1,932.7 746.6,934.15 745.8,933.45 745.8,931.35 746.6,930.65 763.1,932.1" fill="#333"/>
<polygon points="793,932.1 809.5,930.65 810.3,931.35 810.3,933.45 809.5,934.15 793,932.7" fill="#333"/>
<line x1="763.1" y1="920.5" x2="763.1" y2="989.9" stroke="#505050" stroke-width="0.9"/>
<line x1="793" y1="920.5" x2="793" y2="989.9" stroke="#505050" stroke-width="0.9"/>
<line x1="763.1" y1="989.9" x2="793" y2="989.9" stroke="#505050" stroke-width="0.9"/>
<text x="772.4" y="929.3" font-size="10.8" text-anchor="start" textLength="13.1" lengthAdjust="spacing" fill="#222" stroke="#222" stroke-width="0.18">22</text>
<line x1="760" y1="991.7" x2="760" y2="1018.2" stroke="#505050" stroke-width="0.9"/>
<line x1="651.9" y1="950.2" x2="744.8" y2="950.2" stroke="#505050" stroke-width="0.7"/>
<polygon points="706.1,950.5 689.6,951.95 688.8,951.25 688.8,949.15 689.6,948.45 706.1,949.9" fill="#333"/>
<polygon points="712.3,949.9 728.8,948.45 729.6,949.15 729.6,951.25 728.8,951.95 712.3,950.5" fill="#333"/>
<line x1="706.1" y1="938.1" x2="706.1" y2="991.7" stroke="#505050" stroke-width="0.9"/>
<line x1="712.3" y1="938.1" x2="712.3" y2="991.7" stroke="#505050" stroke-width="0.9"/>
<text x="650.6" y="944.3" font-size="11" text-anchor="start" textLength="24.3" lengthAdjust="spacing" fill="#222" stroke="#222" stroke-width="0.18">4.76</text>
<text x="677.4" y="935.6" font-size="8" text-anchor="start" textLength="21" lengthAdjust="spacing" fill="#222" stroke="#222" stroke-width="0.18">-0.01</text>
<text x="677.4" y="944.9" font-size="8" text-anchor="start" textLength="21" lengthAdjust="spacing" fill="#222" stroke="#222" stroke-width="0.18">-0.03</text>
<circle cx="709" cy="1005.3" r="13" fill="none" stroke="#505050" stroke-width="0.9"/>
<line x1="709" y1="982" x2="709" y2="1028" stroke="#505050" stroke-width="0.8"/>
<line x1="685.9" y1="1005.3" x2="728.3" y2="1005.3" stroke="#505050" stroke-width="0.8"/>
<line x1="666.6" y1="988.8" x2="712.9" y2="988.8" stroke="#505050" stroke-width="0.8"/>
<line x1="666.6" y1="1018.2" x2="709" y2="1018.2" stroke="#505050" stroke-width="0.8"/>
<line x1="678.6" y1="956.6" x2="678.6" y2="1071.9" stroke="#505050" stroke-width="0.7"/>
<polygon points="678.3,988.8 676.85,973.8 677.55,973 679.65,973 680.35,973.8 678.9,988.8" fill="#333"/>
<polygon points="678.9,1018.2 680.35,1033.2 679.65,1034 677.55,1034 676.85,1033.2 678.3,1018.2" fill="#333"/>
<line x1="741.8" y1="958.8" x2="741.8" y2="1072.6" stroke="#505050" stroke-width="0.7"/>
<polygon points="741.5,991.7 740.05,976.7 740.75,975.9 742.85,975.9 743.55,976.7 742.1,991.7" fill="#333"/>
<polygon points="742.1,1018.2 743.55,1033.2 742.85,1034 740.75,1034 740.05,1033.2 741.5,1018.2" fill="#333"/>
<line x1="729.3" y1="991.7" x2="805.4" y2="991.7" stroke="#505050" stroke-width="0.9"/>
<line x1="729.3" y1="1018.2" x2="805.4" y2="1018.2" stroke="#505050" stroke-width="0.9"/>
<rect x="805.4" y="955" width="11.3" height="99.5" fill="none" stroke="#505050" stroke-width="0.9"/>
<line x1="751" y1="1005.3" x2="809.5" y2="1005.3" stroke="#505050" stroke-width="0.7"/>
<line x1="821" y1="1005.3" x2="827.6" y2="1005.3" stroke="#505050" stroke-width="0.7"/>
<text transform="translate(676.5,1091.6) rotate(-90)" font-size="12.3" text-anchor="start" textLength="31.3" lengthAdjust="spacing" fill="#222" stroke="#222" stroke-width="0.18">21.10</text>
<text transform="translate(665,1054.9) rotate(-90)" font-size="8" text-anchor="start" textLength="4.6" lengthAdjust="spacing" fill="#222" stroke="#222" stroke-width="0.18">0</text>
<text transform="translate(675.9,1058.3) rotate(-90)" font-size="8" text-anchor="start" textLength="23.8" lengthAdjust="spacing" fill="#222" stroke="#222" stroke-width="0.18">-0.10</text>
<text transform="translate(736.4,1098.4) rotate(-90)" font-size="12.3" text-anchor="start" textLength="41.5" lengthAdjust="spacing" fill="#222" stroke="#222" stroke-width="0.18">Φ19.05</text>
<text transform="translate(728.9,1056.3) rotate(-90)" font-size="8" text-anchor="start" textLength="21.1" lengthAdjust="spacing" fill="#222" stroke="#222" stroke-width="0.18">-0.01</text>
<text transform="translate(738.4,1056.3) rotate(-90)" font-size="8" text-anchor="start" textLength="21.1" lengthAdjust="spacing" fill="#222" stroke="#222" stroke-width="0.18">-0.03</text>
<!--/DRAW-->

<!-- shaft title -->
<g fill="#1a1a1a"><text x="79.3" y="874.8" font-size="18" stroke="#1a1a1a" stroke-width="0.4" textLength="33.5" lengthAdjust="spacingAndGlyphs">轴伸</text><text x="118" y="874.3" font-size="17">/</text><text x="130" y="874.3" font-size="17.5" textLength="56.8" lengthAdjust="spacingAndGlyphs">SHAFT</text></g>

<!-- label boxes -->
<rect x="120.5" y="1105.3" width="100.1" height="21.0" fill="#d5e9f9" stroke="#7a8790" stroke-width="1.1"/>
<line x1="175.5" y1="1105.3" x2="175.5" y2="1126.3" stroke="#7a8790" stroke-width="1.1"/>
<text x="148.0" y="1122.4" font-size="15.5" text-anchor="middle" fill="#1a1a1a">代码</text>
<text x="186.8" y="1122.2" font-size="16.5" fill="#111" textLength="18" lengthAdjust="spacingAndGlyphs">X1</text>
<rect x="312.6" y="1104.6" width="99.3" height="20.8" fill="#d5e9f9" stroke="#7a8790" stroke-width="1.1"/>
<line x1="366.6" y1="1104.6" x2="366.6" y2="1125.4" stroke="#7a8790" stroke-width="1.1"/>
<text x="339.6" y="1121.6" font-size="15.5" text-anchor="middle" fill="#1a1a1a">代码</text>
<text x="381.6" y="1122.0" font-size="16.5" fill="#111" textLength="18" lengthAdjust="spacingAndGlyphs">X2</text>
<rect x="504.4" y="1104.4" width="100.0" height="20.8" fill="#d5e9f9" stroke="#7a8790" stroke-width="1.1"/>
<line x1="558.8" y1="1104.4" x2="558.8" y2="1125.2" stroke="#7a8790" stroke-width="1.1"/>
<text x="531.6" y="1121.4" font-size="15.5" text-anchor="middle" fill="#1a1a1a">代码</text>
<text x="573.8" y="1122.1" font-size="16.5" fill="#111" textLength="18" lengthAdjust="spacingAndGlyphs">X3</text>
<rect x="692.6" y="1105.4" width="100.1" height="20.8" fill="#d5e9f9" stroke="#7a8790" stroke-width="1.1"/>
<line x1="747.6" y1="1105.4" x2="747.6" y2="1126.2" stroke="#7a8790" stroke-width="1.1"/>
<text x="720.1" y="1122.4" font-size="15.5" text-anchor="middle" fill="#1a1a1a">代码</text>
<text x="762.8" y="1122.8" font-size="16.5" fill="#111" textLength="18" lengthAdjust="spacingAndGlyphs">X4</text>

<!-- page number -->
<g font-size="15.4" fill="#222"><text x="430.5" y="1154">–</text><text x="455.4" y="1154" text-anchor="middle" letter-spacing="0.4">32</text><text x="471.4" y="1154">–</text></g>

<!-- watermarks -->
<g style="mix-blend-mode:multiply" fill="#cbcbcb" font-size="41" letter-spacing="0.5">
<text transform="translate(99.1,297) rotate(-29.75)" x="-20.5" y="15">淮安市力恒液压机械有限公司</text>
<text transform="translate(43.5,652.5) rotate(-29.75)" x="-20.5" y="15">淮安市力恒液压机械有限公司</text>
<text transform="translate(415,742) rotate(-29.8)" x="-20.5" y="15">淮安市力恒液压机械有限公司</text>
<text transform="translate(364.7,1126.4) rotate(-29.65)" x="-20.5" y="15">淮安市力恒液压机械有限公司</text>
</g>
</svg>
</body></html>
